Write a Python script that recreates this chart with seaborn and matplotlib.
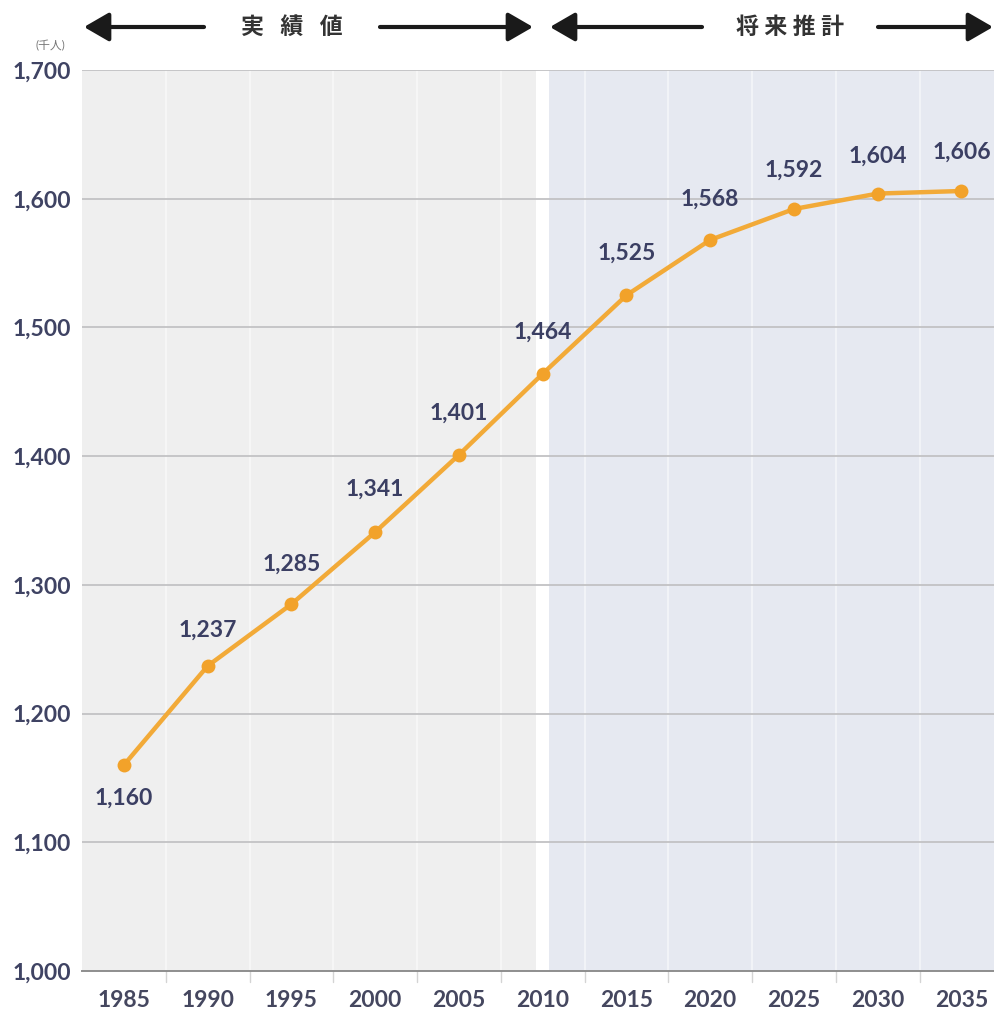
import matplotlib
matplotlib.use("Agg")
import matplotlib.pyplot as plt
import seaborn as sns
import pandas as pd

# Population (thousand people), actual values up to 2010, projections after
years = [1985, 1990, 1995, 2000, 2005, 2010, 2015, 2020, 2025, 2030, 2035]
population = [1160, 1237, 1285, 1341, 1401, 1464, 1525, 1568, 1592, 1604, 1606]
y_ticks = [1000, 1100, 1200, 1300, 1400, 1500, 1600, 1700]
actual_label = "実   績   値"
projection_label = "将 来 推 計"
unit_label = "(千人)"

# label placement: below the first point, above the rest (points offset)
label_dy = [-24, 26, 29, 31, 30, 30, 30, 29, 28, 27, 28]

df = pd.DataFrame({"year": years, "population": population})

sns.set_theme(style="white")
plt.rcParams["font.family"] = ["Lato", "Noto Sans CJK JP", "DejaVu Sans"]

W, H = 995, 1014
fig = plt.figure(figsize=(W / 100, H / 100), dpi=100)
ax = fig.add_axes([82 / W, (H - 971) / H, (995 - 82) / W, (971 - 70) / H])
ax.set_facecolor("white")

x_left, x_right = 1982.5, 2037.0
ax.set_xlim(x_left, x_right)
ax.set_ylim(1000, 1700)

# background bands: actual (grey) and projection (blue-grey) separated by a white gap
ax.axvspan(x_left, 2009.6, color="#efefef", zorder=0, lw=0)
ax.axvspan(2010.35, x_right, color="#e6e9f1", zorder=0, lw=0)

# faint vertical separators between categories
for b in range(1987, 2036, 5):
    ax.axvline(b + 0.5, color="white", lw=1.2, alpha=0.55, zorder=0.5)

# horizontal grid
for t in y_ticks[1:]:
    ax.axhline(t, color="#c2c2c4", lw=1.3, zorder=1)

sns.lineplot(data=df, x="year", y="population", ax=ax, color="#f2aa38",
             lw=3.2, marker="o", markersize=10, markeredgewidth=0,
             markerfacecolor="#f2a22a", zorder=3)

for x, y, dy in zip(years, population, label_dy):
    ax.annotate(f"{y:,}", (x, y), xytext=(0, dy), textcoords="offset points",
                ha="center", va="center", fontsize=16.5, fontweight="bold",
                color="#3b3f63", zorder=4)

ax.set_xticks(years)
ax.set_xticklabels([str(y) for y in years])
ax.set_yticks(y_ticks)
ax.set_yticklabels([f"{t:,}" for t in y_ticks])
ax.tick_params(axis="x", length=0, pad=14, labelsize=16.5, labelcolor="#45475f")
ax.tick_params(axis="y", length=0, pad=8, labelsize=16.5, labelcolor="#3f4363")
for lab in ax.get_xticklabels() + ax.get_yticklabels():
    lab.set_fontweight("bold")

# small ticks below the baseline at category borders
for b in range(1987, 2036, 5):
    ax.plot([b + 0.5, b + 0.5], [0, -0.012], transform=ax.get_xaxis_transform(),
            color="#d4d4d4", lw=1.0, clip_on=False)

for s in ["top", "right", "left"]:
    ax.spines[s].set_visible(False)
ax.spines["bottom"].set_color("#8e8e8e")
ax.spines["bottom"].set_linewidth(1.4)
ax.set_xlabel("")
ax.set_ylabel("")

# period arrows above the chart
arrow_y = H - 27
arrow_kw = dict(arrowstyle="-|>,head_length=0.95,head_width=0.55", color="#1a1a1a",
                lw=3.0, shrinkA=0, shrinkB=0, mutation_scale=16)
for x0, x1 in [(204, 84), (380, 533), (702, 550), (878, 993)]:
    ax.annotate("", xy=(x1, arrow_y), xytext=(x0, arrow_y),
                xycoords="figure pixels", textcoords="figure pixels",
                arrowprops=arrow_kw, annotation_clip=False)
fig.text(292 / W, arrow_y / H, actual_label, ha="center", va="center",
         fontsize=16.5, fontweight="bold", color="#333333")
fig.text(790 / W, arrow_y / H, projection_label, ha="center", va="center",
         fontsize=16.5, fontweight="bold", color="#333333")
fig.text(50 / W, (H - 46) / H, unit_label, ha="center", va="center",
         fontsize=8.5, color="#777777")

fig.savefig("out.png", dpi=100, facecolor="white")
